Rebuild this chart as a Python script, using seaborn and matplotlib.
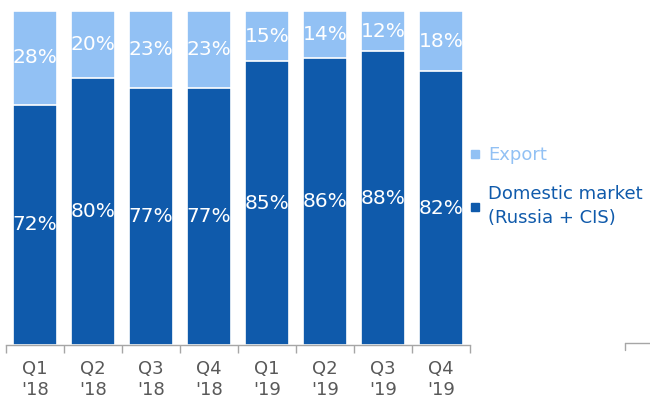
import matplotlib
matplotlib.use("Agg")
import matplotlib.pyplot as plt
import seaborn as sns
import pandas as pd
import numpy as np
from matplotlib.lines import Line2D
from matplotlib.ticker import FixedLocator

quarters = ["Q1\n'18", "Q2\n'18", "Q3\n'18", "Q4\n'18", "Q1\n'19", "Q2\n'19", "Q3\n'19", "Q4\n'19"]
domestic = [72, 80, 77, 77, 85, 86, 88, 82]
export = [28, 20, 23, 23, 15, 14, 12, 18]

DARK = "#0F5AAB"
LIGHT = "#92C1F4"
GRAY = "#595959"

sns.set_theme(style="white")
plt.rcParams['font.family'] = ['DejaVu Sans']

df = pd.DataFrame({"quarter": quarters, "domestic": domestic, "export": export})
df["total"] = df["domestic"] + df["export"]

fig = plt.figure(figsize=(6.5, 4), dpi=100)
ax = fig.add_axes([0.009, 0.1375, 0.714, 0.835])

sns.barplot(data=df, x="quarter", y="total", color=LIGHT, saturation=1, width=0.75,
            edgecolor="white", linewidth=1.2, ax=ax)
sns.barplot(data=df, x="quarter", y="domestic", color=DARK, saturation=1, width=0.75,
            edgecolor="white", linewidth=1.2, ax=ax)

for i, (d, e) in enumerate(zip(domestic, export)):
    ax.text(i, d / 2, f"{d}%", ha="center", va="center", color="white", fontsize=14.5)
    ax.text(i, d + e / 2, f"{e}%", ha="center", va="center", color="white", fontsize=14.5)

ax.set_xlim(-0.5, len(quarters) - 0.5)
ax.set_ylim(0, 100)
ax.set_xlabel("")
ax.set_ylabel("")
ax.set_yticks([])
for s in ["top", "right", "left"]:
    ax.spines[s].set_visible(False)
ax.spines["bottom"].set_color("#A6A6A6")
ax.spines["bottom"].set_linewidth(1)

ax.xaxis.set_minor_locator(FixedLocator(np.arange(-0.5, len(quarters), 1.0)))
ax.tick_params(axis="x", which="major", length=0, pad=11, labelsize=13, labelcolor=GRAY)
ax.tick_params(axis="x", which="minor", length=6, color="#A6A6A6", width=1, bottom=True)
for lab in ax.get_xticklabels():
    lab.set_linespacing(1.2)

handles = [Line2D([], [], marker="s", linestyle="none", markersize=6, color=LIGHT),
           Line2D([], [], marker="s", linestyle="none", markersize=6, color=DARK)]
leg = ax.legend(handles, ["Export", "Domestic market\n(Russia + CIS)"], frameon=False,
                loc="upper left", bbox_to_anchor=(1.0, 0.595), fontsize=13,
                labelcolor=[LIGHT, DARK], handlelength=0.6, handletextpad=0.4,
                labelspacing=1.15, borderaxespad=0, borderpad=0)
for t in leg.get_texts():
    t.set_linespacing(1.4)

# small axis fragment at bottom right
fig.add_artist(Line2D([625 / 650, 650 / 650], [1 - 343 / 400, 1 - 343 / 400],
                      color="#A6A6A6", lw=1, transform=fig.transFigure))
fig.add_artist(Line2D([625 / 650, 625 / 650], [1 - 343 / 400, 1 - 350 / 400],
                      color="#A6A6A6", lw=1, transform=fig.transFigure))

fig.savefig("out.png", dpi=100)
